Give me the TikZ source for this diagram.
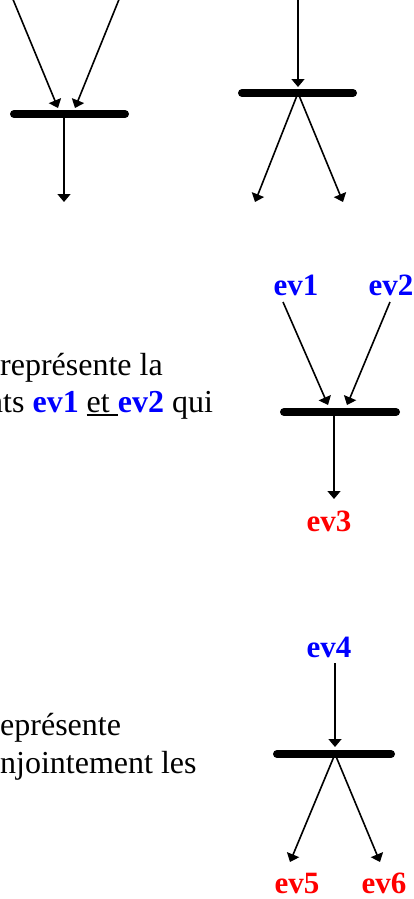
\documentclass[tikz,border=0pt]{standalone}
\usepackage{fontspec}
\setmainfont{Liberation Serif}
\usetikzlibrary{arrows.meta}
\definecolor{evblue}{RGB}{0,0,255}
\definecolor{evred}{RGB}{255,0,0}
\newcommand\myul[1]{\setbox0\hbox{#1}\rlap{\rule[-3.5pt]{\wd0}{1.6pt}}\box0}
\begin{document}
\begin{tikzpicture}[x=1pt,y=-1pt,
  conn/.style={line width=1.6pt,-{Triangle[width=13pt,length=8pt]}},
  syncbar/.style={line width=8pt,line cap=round},
  bodytext/.style={anchor=base west,inner sep=0pt,font=\fontsize{32}{38}\selectfont},
  inlbl/.style={anchor=base,inner sep=0pt,text=evblue,font=\fontsize{31}{36}\selectfont\bfseries},
  outlbl/.style={anchor=base,inner sep=0pt,text=evred,font=\fontsize{31}{36}\selectfont\bfseries}]
\useasboundingbox (0,0) rectangle (414,899);
\fill[white] (0,0) rectangle (414,899);

% ---------- top left: join ----------
\coordinate (tl1s) at (12,-3);
\coordinate (tl1e) at (58,108);
\coordinate (tl2s) at (120,-3);
\coordinate (tl2e) at (75,108);
\coordinate (tlbarA) at (14,114);
\coordinate (tlbarB) at (125,114);
\coordinate (tlmid) at (64,114);
\coordinate (tlout) at (64,202);
\draw[syncbar] (tlbarA) -- (tlbarB);
\draw[conn] (tl1s) -- (tl1e);
\draw[conn] (tl2s) -- (tl2e);
\draw[conn] (tlmid) -- (tlout);

% ---------- top right: fork ----------
\coordinate (trin) at (298,-3);
\coordinate (trtip) at (298,87);
\coordinate (trbarA) at (242,93);
\coordinate (trbarB) at (353,93);
\coordinate (trmid) at (298,93);
\coordinate (tro1) at (255,202);
\coordinate (tro2) at (343,202);
\draw[syncbar] (trbarA) -- (trbarB);
\draw[conn] (trin) -- (trtip);
\draw[conn] (trmid) -- (tro1);
\draw[conn] (trmid) -- (tro2);

% ---------- middle: join with labels ----------
\node[bodytext] (t1) at (0,375) {représente la};
\node[bodytext] (t2) at (-13,412) {nts \textbf{\color{evblue}ev1} \myul{et\ }\textbf{\color{evblue}ev2} qui};

\node[inlbl] (ev1) at (296,295) {ev1};
\node[inlbl] (ev2) at (391,295) {ev2};
\coordinate (m1e) at (328,405);
\coordinate (m2e) at (347,405);
\coordinate (mbarA) at (284,412);
\coordinate (mbarB) at (396,412);
\coordinate (mmid) at (334,412);
\coordinate (mout) at (334,499);
\node[outlbl] (ev3) at (329,531) {ev3};
\draw[syncbar] (mbarA) -- (mbarB);
\draw[conn] (283,302) -- (m1e);
\draw[conn] (390,302) -- (m2e);
\draw[conn] (mmid) -- (mout);

% ---------- bottom: fork with labels ----------
\node[bodytext] (t3) at (0,735) {eprésente};
\node[bodytext] (t4) at (0,773) {njointement les};

\node[inlbl] (ev4) at (329,657) {ev4};
\coordinate (bin) at (335,663);
\coordinate (btip) at (335,747);
\coordinate (bbarA) at (277,754);
\coordinate (bbarB) at (391,754);
\coordinate (bmid) at (335,754);
\coordinate (bo1) at (290,862);
\coordinate (bo2) at (380,862);
\node[outlbl] (ev5) at (297,893) {ev5};
\node[outlbl] (ev6) at (384,893) {ev6};
\draw[syncbar] (bbarA) -- (bbarB);
\draw[conn] (bin) -- (btip);
\draw[conn] (bmid) -- (bo1);
\draw[conn] (bmid) -- (bo2);
\end{tikzpicture}
\end{document}
